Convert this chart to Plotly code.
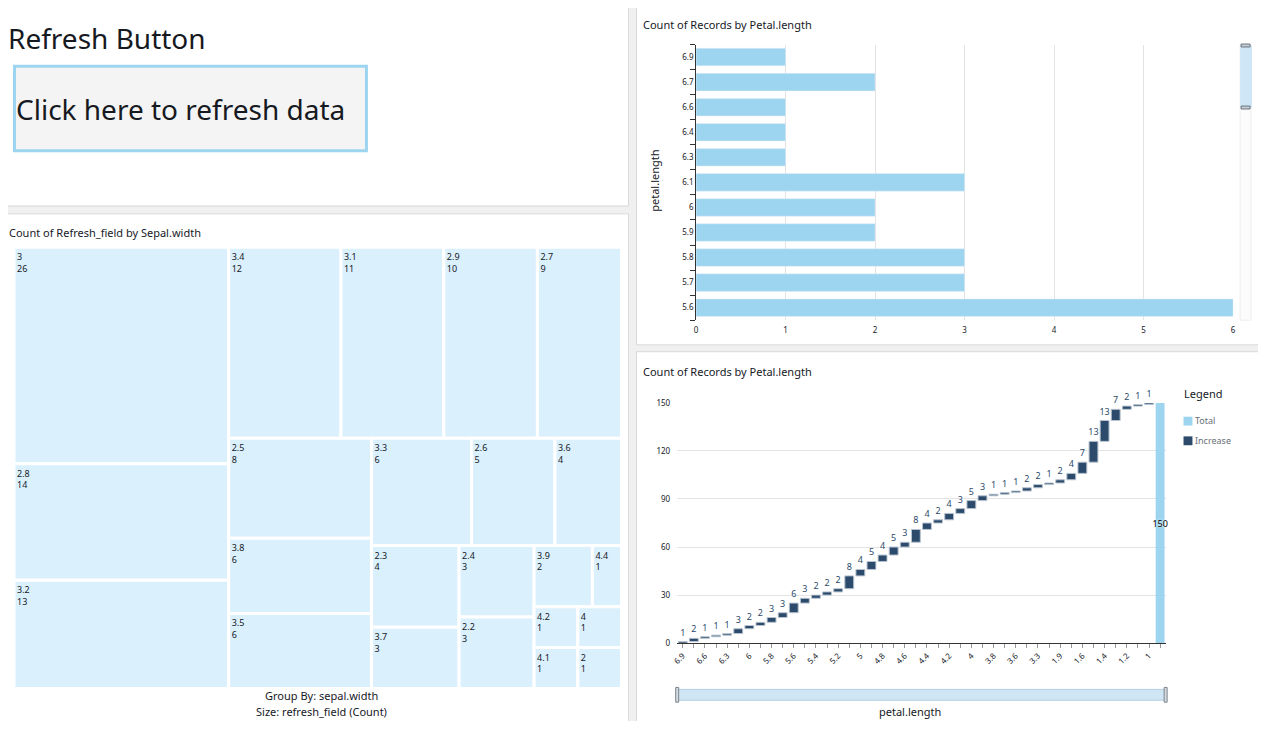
import plotly.graph_objects as go

# The page body keeps its default 8px margin, so the figure is 16px smaller than the window
PAGE_W, PAGE_H = 1266, 729
OFF = 8
W, H = PAGE_W - 2 * OFF, PAGE_H - 2 * OFF
FONT = "Noto Sans"
DARK = "#16191f"
LIGHT_BLUE = "#9dd5f0"
NAVY = "#2c4a6b"
CELL = "#dbf0fd"

# ---- data ----
petal_length = ["6.9", "6.7", "6.6", "6.4", "6.3", "6.1", "6", "5.9", "5.8", "5.7", "5.6",
                "5.5", "5.4", "5.3", "5.2", "5.1", "5", "4.9", "4.8", "4.7", "4.6", "4.5",
                "4.4", "4.3", "4.2", "4.1", "4", "3.9", "3.8", "3.7", "3.6", "3.5", "3.3",
                "3", "1.9", "1.7", "1.6", "1.5", "1.4", "1.3", "1.2", "1.1", "1"]
petal_counts = [1, 2, 1, 1, 1, 3, 2, 2, 3, 3, 6,
                3, 2, 2, 2, 8, 4, 5, 4, 5, 3, 8,
                4, 2, 4, 3, 5, 3, 1, 1, 1, 2, 2,
                1, 2, 4, 7, 13, 13, 7, 2, 1, 1]
bar_visible_n = 11  # rows visible in the scrolled bar chart

sepal_width = ["3", "2.8", "3.2", "3.4", "3.1", "2.9", "2.7", "2.5", "3.8", "3.5", "3.3",
               "2.6", "3.6", "2.3", "3.7", "2.4", "2.2", "3.9", "4.4", "4.2", "4.1", "4", "2"]
sepal_counts = [26, 14, 13, 12, 11, 10, 9, 8, 6, 6, 6,
                5, 4, 4, 3, 3, 3, 2, 1, 1, 1, 1, 1]

waterfall_ticks_y = [0, 30, 60, 90, 120, 150]
bar_ticks_x = [0, 1, 2, 3, 4, 5, 6]
legend_names = ["Total", "Increase"]
legend_colors = [LIGHT_BLUE, NAVY]


def px(x):
    return (x - OFF) / W


def py(y):
    return 1 - (y - OFF) / H


def clamp(v):
    return min(1.0, max(0.0, v))


fig = go.Figure()

# ---- Treemap ----
fig.add_trace(go.Treemap(
    labels=sepal_width,
    parents=[""] * len(sepal_width),
    values=sepal_counts,
    texttemplate="%{label}<br>%{value}",
    textposition="top left",
    textfont=dict(family=FONT, size=9, color=DARK),
    marker=dict(colors=[CELL] * len(sepal_width), line=dict(color="white", width=3),
                pad=dict(t=0, l=0, r=0, b=0)),
    tiling=dict(packing="squarify", squarifyratio=1.575, pad=0),
    pathbar=dict(visible=False),
    sort=False,
    hoverinfo="label+value",
    domain=dict(x=[clamp(px(6)), clamp(px(620))], y=[clamp(py(693)), clamp(py(245))]),
))

# ---- Horizontal bar chart ----
bar_labels = petal_length[:bar_visible_n]
bar_vals = petal_counts[:bar_visible_n]
fig.add_trace(go.Bar(
    x=bar_vals, y=bar_labels, orientation="h",
    marker=dict(color=LIGHT_BLUE), xaxis="x", yaxis="y", showlegend=False,
))

# ---- Waterfall ----
wf_x = petal_length + ["Total"]
wf_measure = ["relative"] * len(petal_counts) + ["total"]
wf_y = petal_counts + [0]
total = sum(petal_counts)
wf_text = [str(c) for c in petal_counts] + [str(total)]
wf_textpos = ["outside"] * len(petal_counts) + ["inside"]
wf_textcolor = [NAVY] * len(petal_counts) + ["#000000"]
fig.add_trace(go.Waterfall(
    x=wf_x, y=wf_y, measure=wf_measure,
    text=wf_text, textposition=wf_textpos, textangle=0,
    textfont=dict(family=FONT, size=9, color=wf_textcolor,
                  shadow="0px 0px 2px #ffffff"),
    insidetextanchor="middle",
    constraintext="none",
    increasing=dict(marker=dict(color=NAVY, line=dict(color="#b8c4d0", width=1))),
    totals=dict(marker=dict(color=LIGHT_BLUE)),
    connector=dict(visible=False),
    cliponaxis=False,
    xaxis="x2", yaxis="y2", showlegend=False,
))

# ---- panels ----
shapes = []
BORDER = "#d9d9d9"


def panel(x0, y0, x1, y1):
    shapes.append(dict(type="rect", xref="paper", yref="paper", layer="below",
                       x0=px(x0), x1=px(x1), y0=py(y1), y1=py(y0),
                       fillcolor="white", line=dict(color=BORDER, width=1)))


panel(-2, -2, 627, 203)
panel(-2, 211, 627, 731)
panel(635, -2, 1268, 344)
panel(635, 351, 1268, 731)

# refresh button box
shapes.append(dict(type="rect", xref="paper", yref="paper",
                   x0=px(8.5), x1=px(363), y0=py(147), y1=py(61),
                   fillcolor="#f4f4f4", line=dict(color=LIGHT_BLUE, width=3)))

# bar chart scrollbar
shapes.append(dict(type="rect", xref="paper", yref="paper",
                   x0=px(1243), x1=px(1254), y0=py(319), y1=py(39),
                   fillcolor="#fcfcfc", line=dict(color="#eeeeee", width=1)))
shapes.append(dict(type="rect", xref="paper", yref="paper",
                   x0=px(1243), x1=px(1255), y0=py(103), y1=py(40),
                   fillcolor="#cfe6f6", line=dict(width=0)))
for yy in (40, 103):
    shapes.append(dict(type="rect", xref="paper", yref="paper",
                       x0=px(1244), x1=px(1253), y0=py(yy + 1.5), y1=py(yy - 1.5),
                       fillcolor="#c7cdd2", line=dict(color="#6b7680", width=1)))

# waterfall range slider
shapes.append(dict(type="rect", xref="paper", yref="paper",
                   x0=px(676), x1=px(1168), y0=py(705), y1=py(694),
                   fillcolor="#d0e6f5", line=dict(color="#b5cfe2", width=1)))
for xx in (676, 1168):
    shapes.append(dict(type="rect", xref="paper", yref="paper",
                       x0=px(xx - 1.5), x1=px(xx + 1.5), y0=py(707), y1=py(692),
                       fillcolor="#d7dbde", line=dict(color="#7b858e", width=1)))

annotations = []


def text(x, y, s, size, color=DARK, xanchor="left", angle=0):
    annotations.append(dict(x=px(x), y=py(y), xref="paper", yref="paper", text=s,
                            showarrow=False, xanchor=xanchor, yanchor="middle",
                            textangle=angle, borderpad=0,
                            font=dict(family=FONT, size=size, color=color)))


text(1, 32, "Refresh Button", 28)
text(9, 104, "Click here to refresh data", 28)
text(2, 230, "Count of Refresh_field by Sepal.width", 11)
text(318, 700, "Group By: sepal.width", 11, xanchor="center")
text(318, 716, "Size: refresh_field (Count)", 11, xanchor="center")
text(641, 19, "Count of Records by Petal.length", 11)
text(641, 371, "Count of Records by Petal.length", 11)
text(653, 177, "petal.length", 11, xanchor="center", angle=-90)
text(911, 716, "petal.length", 11, xanchor="center")

# legend of the waterfall
text(1185, 393, "Legend", 11)
for i, (name, col) in enumerate(zip(legend_names, legend_colors)):
    yc = 421 + 20 * i
    shapes.append(dict(type="rect", xref="paper", yref="paper",
                       x0=px(1186), x1=px(1195), y0=py(yc + 5), y1=py(yc - 4),
                       fillcolor=col, line=dict(width=0)))
    text(1197, yc, name, 9, color="#687078")

tickfont = dict(family=FONT, size=8, color=DARK)

fig.update_layout(
    width=W, height=H, autosize=False,
    margin=dict(l=0, r=0, t=0, b=0),
    paper_bgcolor="#f0f0f0", plot_bgcolor="rgba(0,0,0,0)",
    font=dict(family=FONT, color=DARK),
    shapes=shapes, annotations=annotations,
    bargap=0.3, showlegend=False,
    xaxis=dict(domain=[px(695), px(1236)], range=[0, 6], tickvals=bar_ticks_x,
               showgrid=True, gridcolor="#e3e3e3", zeroline=False, showline=False,
               tickfont=tickfont, ticks="", ticklabelstandoff=4, anchor="y"),
    yaxis=dict(domain=[py(319), py(39)], type="category",
               categoryorder="array", categoryarray=bar_labels[::-1],
               showline=True, linecolor="#333333", linewidth=1,
               ticks="outside", tickson="boundaries", ticklen=5, tickcolor="#333333",
               tickfont=tickfont, showgrid=False, anchor="x"),
    xaxis2=dict(domain=[px(676), px(1168)], type="category",
                categoryorder="array", categoryarray=wf_x,
                tickangle=-45, ticklabelstep=2, ticks="outside", ticklen=4,
                tickcolor="#999999", showline=True, linecolor="#333333", linewidth=1,
                tickfont=tickfont, showgrid=False, anchor="y2"),
    yaxis2=dict(domain=[py(647), py(403)], range=[0, 150], tickvals=waterfall_ticks_y,
                showgrid=True, gridcolor="#e3e3e3", zeroline=False, showline=False,
                tickfont=tickfont, ticklabelstandoff=6, anchor="x2"),
)

fig.write_html("out.html", config={"displayModeBar": False})
